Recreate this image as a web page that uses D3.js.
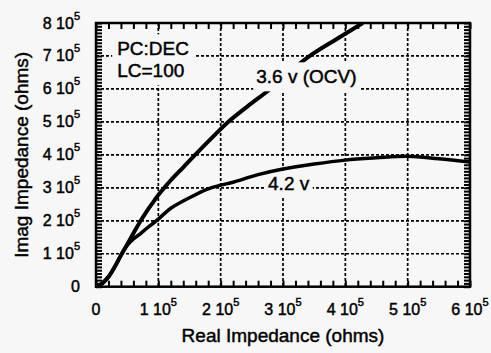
<!DOCTYPE html>
<html>
<head>
<meta charset="utf-8">
<script src="https://cdn.jsdelivr.net/npm/d3@7"></script>
<style>
body { margin: 0; background: #f7f7f7; }
svg { display: block; font-family: "Liberation Sans", Arial, Helvetica, sans-serif; }
svg text { stroke: #000; stroke-width: 0.45px; }
</style>
</head>
<body>
<div id="chart-area"></div>
<script>
// all values in units of 1e5 ohms
var xTicks = [0, 1, 2, 3, 4, 5, 6];
var yTicks = [0, 1, 2, 3, 4, 5, 6, 7, 8];

// 3.6 v (OCV) curve
var ocvReal = [0, 0.1, 0.2, 0.3, 0.4, 0.5, 0.6, 0.7, 0.8, 0.9, 1.0, 1.1, 1.2, 1.4, 1.59, 1.85, 2.12, 2.45, 2.77, 3.1, 3.43, 3.85, 4.28];
var ocvImag = [0, 0.1, 0.3, 0.6, 0.95, 1.28, 1.62, 1.95, 2.25, 2.52, 2.78, 3.01, 3.23, 3.62, 4.0, 4.5, 5.0, 5.5, 5.96, 6.5, 7.0, 7.5, 8.0];

// 4.2 v curve
var v42Real = [0, 0.1, 0.2, 0.3, 0.4, 0.5, 0.6, 0.7, 0.8, 0.9, 1.0, 1.2, 1.5, 1.8, 2.0, 2.2, 2.6, 3.0, 3.5, 4.0, 4.5, 5.0, 5.5, 6.0];
var v42Imag = [0, 0.1, 0.3, 0.6, 0.95, 1.25, 1.45, 1.59, 1.75, 1.9, 2.05, 2.38, 2.7, 2.97, 3.08, 3.17, 3.4, 3.57, 3.72, 3.84, 3.91, 3.96, 3.88, 3.78];

var noteLines = ["PC:DEC", "LC=100"];
var ocvLabel = "3.6 v (OCV)";
var v42Label = "4.2 v";

var margin = {top: 23, right: 21, bottom: 66.3, left: 96};
var W = 491, H = 353;
var w = W - margin.left - margin.right;
var h = H - margin.top - margin.bottom;

var svg = d3.select("#chart-area").append("svg")
	.attr("width", W)
	.attr("height", H);

var g = svg.append("g")
	.attr("transform", "translate(" + margin.left + "," + margin.top + ")");

var x = d3.scaleLinear().domain([0, 6]).range([0, w]);
var y = d3.scaleLinear().domain([0, 8]).range([h, 0]);

var xMinor = d3.range(0, 6.001, 0.2);
var yMinor = d3.range(0, 8.001, 0.1);

// dashed grid
g.selectAll(".vgrid").data(xTicks.slice(1, -1)).enter().append("line")
	.attr("x1", function(d){ return x(d); })
	.attr("x2", function(d){ return x(d); })
	.attr("y1", 0).attr("y2", h)
	.attr("stroke", "#000").attr("stroke-width", 1.7)
	.attr("stroke-dasharray", "3,2");
g.selectAll(".hgrid").data(yTicks.slice(1, -1)).enter().append("line")
	.attr("y1", function(d){ return y(d); })
	.attr("y2", function(d){ return y(d); })
	.attr("x1", 0).attr("x2", w)
	.attr("stroke", "#000").attr("stroke-width", 1.7)
	.attr("stroke-dasharray", "3,2");

// minor ticks, all pointing inward
function minorAxis(axis, tx, ty) {
	var a = g.append("g")
		.attr("transform", "translate(" + tx + "," + ty + ")")
		.call(axis.tickSize(-6).tickFormat(""));
	a.select(".domain").remove();
	a.selectAll(".tick line").attr("stroke", "#000").attr("stroke-width", 2);
}
minorAxis(d3.axisBottom(x).tickValues(xMinor), 0, h);
minorAxis(d3.axisTop(x).tickValues(xMinor), 0, 0);
minorAxis(d3.axisLeft(y).tickValues(yMinor), 0, 0);
minorAxis(d3.axisRight(y).tickValues(yMinor), w, 0);

var line = d3.line()
	.x(function(d){ return x(d[0]); })
	.y(function(d){ return y(d[1]); })
	.curve(d3.curveCatmullRom.alpha(0.5));

var ocvData = ocvReal.map(function(d, i){ return [d, ocvImag[i]]; });
var v42Data = v42Real.map(function(d, i){ return [d, v42Imag[i]]; });

g.append("clipPath").attr("id", "plotclip")
	.append("rect").attr("width", w).attr("height", h);

g.append("path")
	.datum(ocvData)
	.attr("d", line)
	.attr("clip-path", "url(#plotclip)")
	.attr("fill", "none")
	.attr("stroke", "#000")
	.attr("stroke-width", 4);

// annotations with background boxes
var bg = "#f7f7f7";
function note(lines, vx, vy, lh, pad) {
	var t = g.append("text")
		.attr("font-size", 19)
		.attr("fill", "#000");
	lines.forEach(function(s, i){
		t.append("tspan").attr("x", x(vx)).attr("y", y(vy) + i * lh).text(s);
	});
	var b = t.node().getBBox();
	g.insert("rect", function(){ return t.node(); })
		.attr("x", b.x - pad[0]).attr("y", b.y - pad[1])
		.attr("width", b.width + 2 * pad[0]).attr("height", b.height + 2 * pad[1])
		.attr("fill", bg);
	return t;
}
note(noteLines, 0.34, 7.02, 22, [5, 4]);
note([ocvLabel], 2.57, 6.17, 0, [3, 4]);
note([v42Label], 2.76, 2.93, 0, [3, 2]);

g.append("path")
	.datum(v42Data)
	.attr("d", line)
	.attr("fill", "none")
	.attr("stroke", "#000")
	.attr("stroke-width", 3.5);

// frame
g.append("rect")
	.attr("width", w).attr("height", h)
	.attr("fill", "none")
	.attr("stroke", "#000")
	.attr("stroke-width", 2.5);

// tick labels like "3 10^5"
function sciLabel(sel) {
	sel.each(function(d){
		var t = d3.select(this);
		if (d === 0) { t.text("0"); return; }
		t.append("tspan").text(d + " 10");
		t.append("tspan").attr("dy", -9).attr("font-size", 11).text("5");
	});
}

g.selectAll(".xl").data(xTicks).enter().append("text")
	.attr("x", function(d){ return x(d); })
	.attr("y", h + 28.5)
	.attr("text-anchor", "middle")
	.attr("font-size", 16)
	.call(sciLabel);

g.selectAll(".yl").data(yTicks).enter().append("text")
	.attr("x", -16)
	.attr("y", function(d){ return y(d) + 5.5; })
	.attr("text-anchor", "end")
	.attr("font-size", 16)
	.call(sciLabel);

// axis titles
g.append("text")
	.attr("x", w / 2)
	.attr("y", h + 55)
	.attr("text-anchor", "middle")
	.attr("font-size", 19)
	.text("Real Impedance (ohms)");

g.append("text")
	.attr("transform", "translate(" + (28 - margin.left) + "," + (h / 2) + ") rotate(-90)")
	.attr("text-anchor", "middle")
	.attr("font-size", 19)
	.text("Imag Impedance (ohms)");
</script>
</body>
</html>
